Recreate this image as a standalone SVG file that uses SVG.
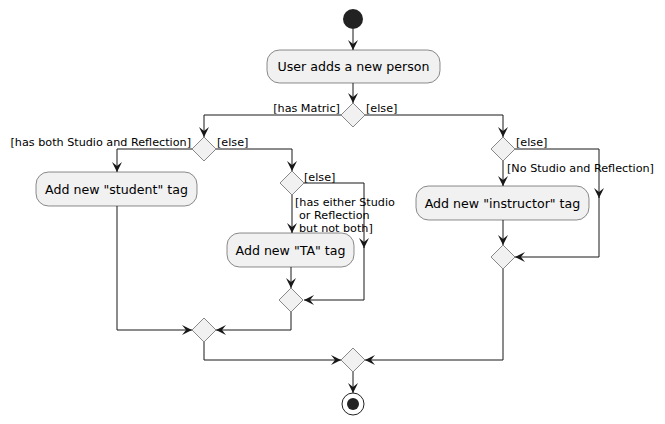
<svg xmlns="http://www.w3.org/2000/svg" width="665" height="424" viewBox="0 0 665 424">
<defs>
<style>
.act{fill:#F1F1F1;stroke:#181818;stroke-width:0.5}
.dia{fill:#F1F1F1;stroke:#181818;stroke-width:0.5}
.at{font-family:"DejaVu Sans",sans-serif;font-size:12.6px;fill:#000;text-anchor:middle}
.lb{font-family:"DejaVu Sans",sans-serif;font-size:11.2px;fill:#000}
.ln{fill:none;stroke:#181818;stroke-width:1;marker-end:url(#ah)}
</style>
<marker id="ah" markerUnits="userSpaceOnUse" markerWidth="12" markerHeight="12" refX="10" refY="5" orient="auto" overflow="visible">
<path d="M0,0 L10,5 L0,10 L4,5 Z" fill="#181818"/>
</marker>
</defs>
<rect width="665" height="424" fill="#FFFFFF"/>
<g id="connectors">
<path class="ln" d="M353,29 V50"/>
<path class="ln" d="M353,83 V103"/>
<path class="ln" d="M341,115 H204 V137"/>
<path class="ln" d="M365,115 H503 V137"/>
<path class="ln" d="M192,149 H117 V172"/>
<path class="ln" d="M216,149 H292 V171"/>
<path class="ln" d="M304,183 H364 V248"/>
<path class="ln" d="M364,247 V300 H304"/>
<path class="ln" d="M292,195 V233"/>
<path class="ln" d="M291,267 V288"/>
<path class="ln" d="M291,312 V330 H216"/>
<path class="ln" d="M117,206 V330 H192"/>
<path class="ln" d="M204,342 V360 H341"/>
<path class="ln" d="M515,149 H599 V198"/>
<path class="ln" d="M599,197 V257 H515"/>
<path class="ln" d="M503,161 V186"/>
<path class="ln" d="M503,220 V245"/>
<path class="ln" d="M503,269 V360 H365"/>
<path class="ln" d="M353,372 V393"/>
<text class="lb" x="340" y="112" text-anchor="end">[has Matric]</text>
<text class="lb" x="366" y="112">[else]</text>
<text class="lb" x="191" y="146" text-anchor="end">[has both Studio and Reflection]</text>
<text class="lb" x="217" y="146">[else]</text>
<text class="lb" x="304" y="181">[else]</text>
<text class="lb" x="295" y="206">[has either Studio</text>
<text class="lb" x="299" y="219">or Reflection</text>
<text class="lb" x="299" y="232">but not both]</text>
<text class="lb" x="516" y="146">[else]</text>
<text class="lb" x="507" y="172">[No Studio and Reflection]</text>
</g>
<g id="start"><circle cx="353" cy="19" r="10" fill="#222222"/></g>
<g id="act-user"><rect class="act" x="267" y="50" width="173" height="33" rx="12.5"/><text class="at" x="353.5" y="71">User adds a new person</text></g>
<g id="d1"><polygon class="dia" points="353,103 365,115 353,127 341,115"/></g>
<g id="d2"><polygon class="dia" points="204,137 216,149 204,161 192,149"/></g>
<g id="act-student"><rect class="act" x="36" y="172" width="161" height="34" rx="12.5"/><text class="at" x="116.5" y="193.5">Add new "student" tag</text></g>
<g id="d4"><polygon class="dia" points="292,171 304,183 292,195 280,183"/></g>
<g id="act-ta"><rect class="act" x="227" y="233" width="127" height="34" rx="12.5"/><text class="at" x="290.5" y="254.5">Add new "TA" tag</text></g>
<g id="d5"><polygon class="dia" points="291,288 303,300 291,312 279,300"/></g>
<g id="d6"><polygon class="dia" points="204,318 216,330 204,342 192,330"/></g>
<g id="d3"><polygon class="dia" points="503,137 515,149 503,161 491,149"/></g>
<g id="act-instructor"><rect class="act" x="416" y="186" width="173" height="34" rx="12.5"/><text class="at" x="502.5" y="207.5">Add new "instructor" tag</text></g>
<g id="d8"><polygon class="dia" points="503,245 515,257 503,269 491,257"/></g>
<g id="d7"><polygon class="dia" points="353,348 365,360 353,372 341,360"/></g>
<g id="end"><circle cx="353" cy="404" r="11" fill="none" stroke="#222222" stroke-width="1"/><circle cx="353" cy="404" r="6" fill="#222222"/></g>
</svg>
